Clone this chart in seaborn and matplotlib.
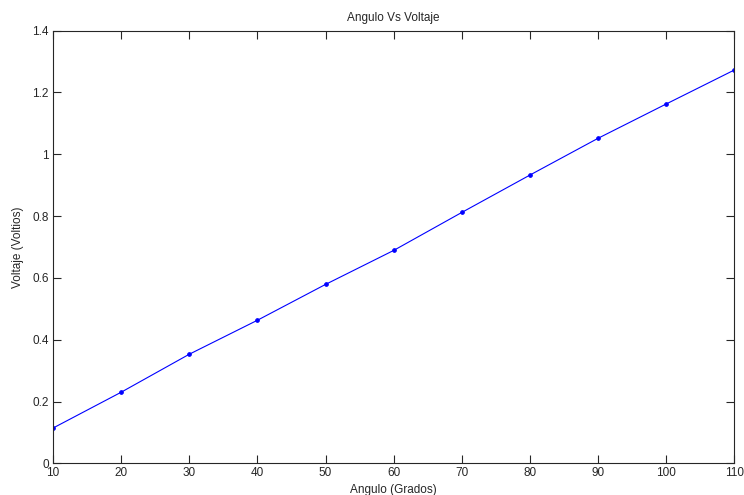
import numpy as np
import pandas as pd
import seaborn as sns
import matplotlib
matplotlib.use('Agg')
import matplotlib.pyplot as plt

# data
angulo = [10, 20, 30, 40, 50, 60, 70, 80, 90, 100, 110]
voltaje = [0.114, 0.230, 0.353, 0.463, 0.579, 0.689, 0.812, 0.933, 1.052, 1.163, 1.273]

x_ticks = [10, 20, 30, 40, 50, 60, 70, 80, 90, 100, 110]
y_ticks = [0, 0.2, 0.4, 0.6, 0.8, 1, 1.2, 1.4]
y_tick_labels = ['0', '0.2', '0.4', '0.6', '0.8', '1', '1.2', '1.4']

df = pd.DataFrame({'Angulo': angulo, 'Voltaje': voltaje})

sns.set_style('ticks')
plt.rcParams['font.family'] = ['Liberation Sans', 'DejaVu Sans']
plt.rcParams['font.size'] = 8.5

fig = plt.figure(figsize=(7.44, 4.95), dpi=100)
ax = fig.add_axes([0.0712, 0.064, 0.9160, 0.874])

sns.lineplot(data=df, x='Angulo', y='Voltaje', ax=ax, color='#0000ff',
             linewidth=0.8, marker='o', markersize=2.6,
             markeredgecolor='#0000ff', markerfacecolor='#0000ff')

ax.set_xlim(10, 110)
ax.set_ylim(0, 1.4)
ax.set_xticks(x_ticks)
ax.set_yticks(y_ticks)
ax.set_yticklabels(y_tick_labels)

ax.tick_params(direction='in', length=6, width=0.8, top=True, right=True,
               labelsize=8.5, pad=3, colors='#262626')
for s in ax.spines.values():
  s.set_visible(True)
  s.set_linewidth(0.8)
  s.set_color('#262626')

ax.set_title('Angulo Vs Voltaje', fontsize=8.5, pad=7)
ax.set_xlabel('Angulo (Grados)', fontsize=8.5, labelpad=3)
ax.set_ylabel('Voltaje (Voltios)', fontsize=8.5, labelpad=6)

fig.savefig('out.png', dpi=100)
